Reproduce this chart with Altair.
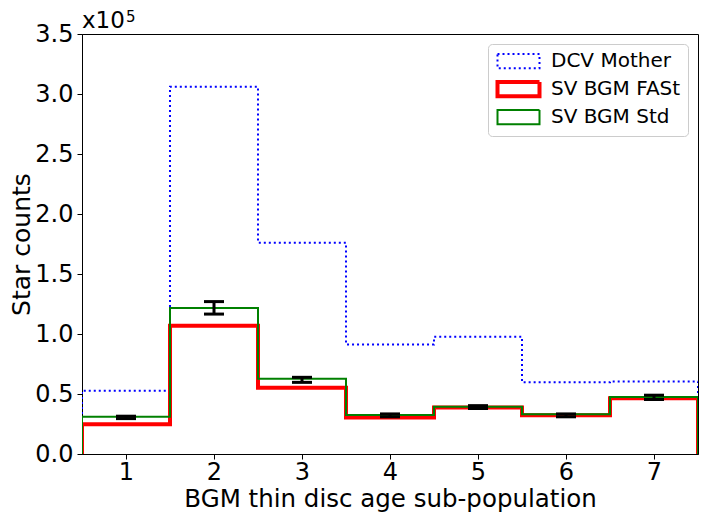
import altair as alt
import pandas as pd

# ---- data (values in units of 1e5 star counts) ----
bins = [1, 2, 3, 4, 5, 6, 7]
series = ["DCV Mother", "SV BGM FASt", "SV BGM Std"]
dcv_mother = [0.527, 3.06, 1.76, 0.912, 0.977, 0.597, 0.605]
sv_bgm_fast = [0.247, 1.069, 0.553, 0.305, 0.388, 0.322, 0.464]
sv_bgm_std = [0.311, 1.217, 0.627, 0.325, 0.394, 0.331, 0.476]
err_center = [0.305, 1.218, 0.618, 0.322, 0.391, 0.322, 0.472]
err_half = [0.010, 0.052, 0.021, 0.012, 0.012, 0.012, 0.018]
y_ticks = [0.0, 0.5, 1.0, 1.5, 2.0, 2.5, 3.0, 3.5]

FONT = "DejaVu Sans"


def step_rows(name, vals):
    rows = [{"series": name, "x": bins[0] - 0.5, "y": 0.0}]
    for b, v in zip(bins, vals):
        rows.append({"series": name, "x": b - 0.5, "y": v})
        rows.append({"series": name, "x": b + 0.5, "y": v})
    rows.append({"series": name, "x": bins[-1] + 0.5, "y": 0.0})
    for i, r in enumerate(rows):
        r["order"] = i
    return rows


steps = pd.DataFrame(
    step_rows(series[0], dcv_mother)
    + step_rows(series[1], sv_bgm_fast)
    + step_rows(series[2], sv_bgm_std)
)

errs = pd.DataFrame({
    "bin": bins,
    "lo": [c - e for c, e in zip(err_center, err_half)],
    "hi": [c + e for c, e in zip(err_center, err_half)],
})

xscale = alt.Scale(domain=[0.5, 7.5], nice=False, zero=False)
yscale = alt.Scale(domain=[0, 3.5], nice=False)

legend = alt.Legend(
    title=None,
    orient="top-right",
    offset=10,
    symbolType="M-1,-0.95H4.6V0.95H-1Z",
    symbolSize=225,
    symbolFillColor="white",
    labelFont=FONT,
    labelFontSize=20,
    labelColor="black",
    labelOffset=36,
    rowPadding=0,
    padding=7,
    strokeColor="#cccccc",
    cornerRadius=4,
    fillColor="rgba(255,255,255,0.8)",
)

xaxis = alt.Axis(
    values=bins, format="d", title="BGM thin disc age sub-population", grid=False,
    labelFont=FONT, labelFontSize=24, labelColor="black", labelPadding=1,
    tickSize=5, tickColor="black", domainColor="black",
    titleFont=FONT, titleFontSize=24.5, titleFontWeight="normal",
    titleColor="black", titlePadding=3,
)
yaxis = alt.Axis(
    values=y_ticks, format=".1f", title="Star counts", grid=False,
    labelFont=FONT, labelFontSize=24, labelColor="black", labelPadding=4,
    tickSize=5, tickColor="black", domainColor="black",
    titleFont=FONT, titleFontSize=25, titleFontWeight="normal",
    titleColor="black", titlePadding=0,
)

lines = alt.Chart(steps).mark_line(clip=True, strokeCap="butt").encode(
    x=alt.X("x:Q", scale=xscale, axis=xaxis),
    y=alt.Y("y:Q", scale=yscale, axis=yaxis),
    order="order:Q",
    color=alt.Color("series:N", scale=alt.Scale(domain=series, range=["#0000ff", "#ff0000", "#008000"]), legend=legend),
    strokeDash=alt.StrokeDash("series:N", scale=alt.Scale(domain=series, range=[[2, 3], [1, 0], [1, 0]]), legend=legend),
    strokeWidth=alt.StrokeWidth("series:N", scale=alt.Scale(type="ordinal", domain=series, range=[2, 4, 2]), legend=legend),
)

bars = alt.Chart(errs).mark_rule(color="black", strokeWidth=3).encode(
    x=alt.X("bin:Q", scale=xscale), y=alt.Y("lo:Q", scale=yscale), y2="hi:Q"
)
cap_lo = alt.Chart(errs).mark_tick(color="black", orient="horizontal", size=20, thickness=3, opacity=1).encode(
    x=alt.X("bin:Q", scale=xscale), y=alt.Y("lo:Q", scale=yscale)
)
cap_hi = alt.Chart(errs).mark_tick(color="black", orient="horizontal", size=20, thickness=3, opacity=1).encode(
    x=alt.X("bin:Q", scale=xscale), y=alt.Y("hi:Q", scale=yscale)
)

mult = alt.Chart(pd.DataFrame({"t": ["x10"]})).mark_text(
    align="left", baseline="alphabetic", font=FONT, fontSize=23, color="black"
).encode(x=alt.value(0), y=alt.value(-6), text="t:N")
expo = alt.Chart(pd.DataFrame({"t": ["5"]})).mark_text(
    align="left", baseline="alphabetic", font=FONT, fontSize=15, color="black"
).encode(x=alt.value(44), y=alt.value(-12), text="t:N")

chart = alt.layer(lines, bars, cap_lo, cap_hi, mult, expo).properties(
    width=616, height=420,
    autosize=alt.AutoSizeParams(type="none"),
    padding={"left": 74, "top": 26, "right": 2, "bottom": 58},
).configure_view(stroke="black", strokeWidth=1)

chart.save("out.html", embed_options={"renderer": "svg", "actions": False})
